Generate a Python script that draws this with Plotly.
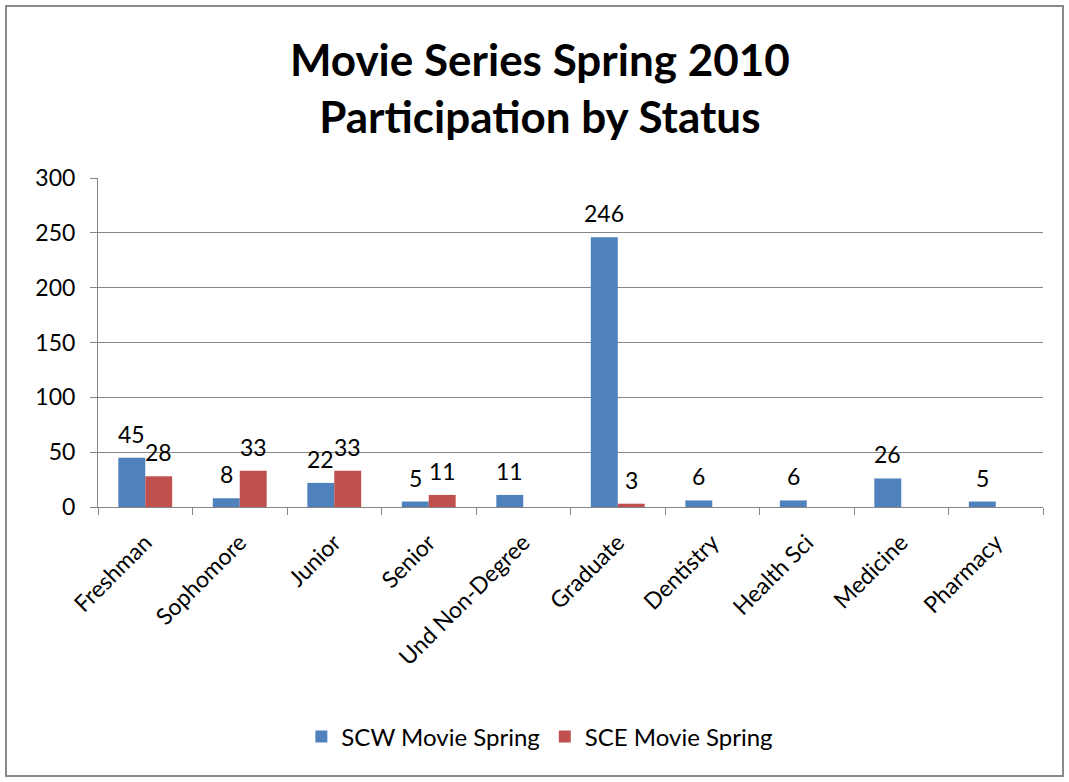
import plotly.graph_objects as go

categories = ["Freshman", "Sophomore", "Junior", "Senior", "Und Non-Degree",
              "Graduate", "Dentistry", "Health Sci", "Medicine", "Pharmacy"]
scw_values = [45, 8, 22, 5, 11, 246, 6, 6, 26, 5]
sce_values = [28, 33, 33, 11, None, 3, None, None, None, None]
series_names = ["SCW Movie Spring", "SCE Movie Spring"]
series_colors = ["#4F81BD", "#C0504D"]
y_ticks = [0, 50, 100, 150, 200, 250, 300]

FONT = "Lato, Carlito, Calibri, sans-serif"
W, H = 1069, 782
L, R, T, B = 98, 1043, 178, 507
BARGAP = 0.43

fig = go.Figure()
for name, vals, col in zip(series_names, [scw_values, sce_values], series_colors):
    fig.add_trace(go.Bar(name=name, x=categories, y=vals,
                         marker=dict(color=col, line=dict(width=0)),
                         cliponaxis=False))

# data labels via annotations anchored on the bars (shifted to each bar's centre)
cat_px = (R - L) / len(categories)
bar_px = cat_px * (1 - BARGAP) / 2
annotations = []
for i, vals in enumerate([scw_values, sce_values]):
    shift = (i - 0.5) * bar_px
    for c, v in zip(categories, vals):
        if v is None:
            continue
        annotations.append(dict(x=c, y=v, xref="x", yref="y", text=str(v),
                                showarrow=False, yanchor="bottom",
                                xanchor="center", xshift=shift, yshift=8,
                                font=dict(size=23, family=FONT, color="black")))

def px_x(p):
    return (p - L) / (R - L)

def px_y(p):
    return (B - p) / (B - T)

fig.update_layout(
    width=W, height=H,
    margin=dict(l=L, r=W - R, t=T, b=H - B),
    paper_bgcolor="white", plot_bgcolor="white",
    font=dict(family=FONT, size=22, color="black"),
    barmode="group", bargap=BARGAP, bargroupgap=0,
    title=dict(text="<b>Movie Series Spring 2010<br>Participation by Status</b>",
               x=0.505, xanchor="center", y=1 - 76 / H, yanchor="middle",
               font=dict(size=44, family=FONT, color="black")),
    legend=dict(orientation="h", xref="container", yref="container",
                x=0.505, xanchor="center", y=1 - 737 / H, yanchor="middle",
                font=dict(size=24, family=FONT), itemwidth=30,
                traceorder="normal"),
    xaxis=dict(showline=True, linecolor="#868686", linewidth=1,
               ticks="outside", tickson="boundaries", ticklen=7,
               tickcolor="#868686", tickangle=-45, ticklabelstandoff=12,
               tickfont=dict(size=23, family=FONT)),
    yaxis=dict(range=[0, 300], tickvals=y_ticks, showgrid=True,
               gridcolor="#868686", gridwidth=1, showline=True,
               linecolor="#868686", linewidth=1, ticks="outside",
               ticklen=7, tickcolor="#868686", ticklabelstandoff=10,
               tickfont=dict(size=23, family=FONT), zeroline=False),
    annotations=annotations,
    shapes=[dict(type="rect", xref="paper", yref="paper",
                 x0=px_x(6), x1=px_x(1063), y0=px_y(776), y1=px_y(6),
                 line=dict(color="#898989", width=2), layer="below")],
)

fig.write_html("out.html", config={"displayModeBar": False},
               post_script="document.body.style.margin='0';document.body.style.padding='0';")
